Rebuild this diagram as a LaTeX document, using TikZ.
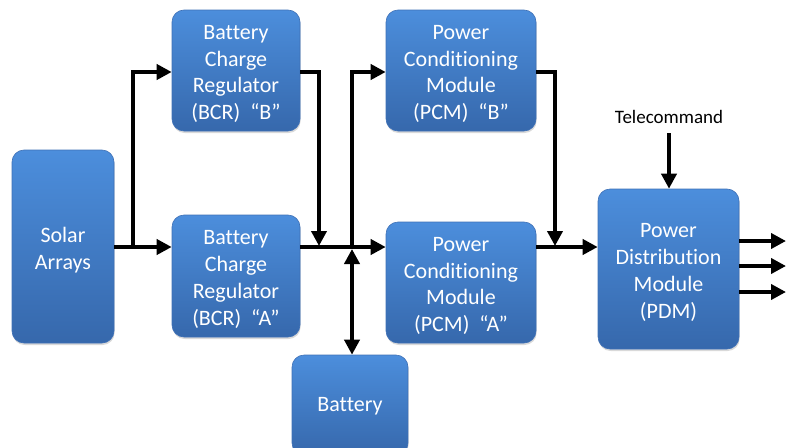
\documentclass[tikz,border=0pt]{standalone}
\usepackage{fontspec}
\setmainfont[Ligatures={NoCommon}]{Carlito}
\usetikzlibrary{arrows.meta,shadows}
\definecolor{btop}{RGB}{76,142,220}
\definecolor{bbot}{RGB}{54,104,172}
\definecolor{bedge}{RGB}{62,112,182}
\begin{document}
\begin{tikzpicture}[x=1pt,y=-1pt,
  blk/.style={rounded corners=12pt, draw=bedge, line width=0.6pt,
    top color=btop, bottom color=bbot, inner sep=0pt,
    drop shadow={opacity=0.3,shadow xshift=0.6pt,shadow yshift=-2pt}},
  txt/.style={text=white, align=center, inner sep=0pt,
    font=\fontsize{22}{26.8}\selectfont},
  tip/.tip={Triangle[length=15pt,width=15pt]},
  con/.style={line width=4pt, line join=miter, -tip},
  dcon/.style={line width=4pt, tip-tip}]
\useasboundingbox (0,0) rectangle (786,447);
\clip (0,0) rectangle (786,447);

% blocks
\node[blk, minimum width=102pt, minimum height=193pt] (sa) at (63,246.5) {};
\node[blk, minimum width=128pt, minimum height=121pt] (bcrb) at (236,70.5) {};
\node[blk, minimum width=128pt, minimum height=122pt] (bcra) at (236,276) {};
\node[blk, minimum width=150pt, minimum height=121pt] (pcmb) at (461,70.5) {};
\node[blk, minimum width=150pt, minimum height=121pt] (pcma) at (461,282.5) {};
\node[blk, minimum width=141pt, minimum height=160pt] (pdm) at (668.5,269) {};
\node[blk, minimum width=116pt, minimum height=100pt] (bat) at (350,405) {};

% block texts
\node[txt] (sat) at ([yshift=-3.5pt]sa.center) {Solar\\Arrays};
\node[txt] (bcrbt) at ([yshift=-3.5pt]bcrb.center) {Battery\\Charge\\Regulator\\(BCR)~~“B”};
\node[txt] (bcrat) at ([yshift=-3.5pt]bcra.center) {Battery\\Charge\\Regulator\\(BCR)~~“A”};
\node[txt] (pcmbt) at ([yshift=-3.5pt]pcmb.center) {Power\\Conditioning\\Module\\(PCM)~~“B”};
\node[txt] (pcmat) at ([yshift=-3.5pt]pcma.center) {Power\\Conditioning\\Module\\(PCM)~~“A”};
\node[txt] (pdmt) at ([yshift=-3.5pt]pdm.center) {Power\\Distribution\\Module\\(PDM)};
\node[txt] (batt) at ([yshift=-1pt]bat.center) {Battery};
\node[font=\fontsize{19}{22}\selectfont, inner sep=0pt] (tele) at (669,117) {Telecommand};

% helper coordinates
\coordinate (bus) at (0,247);
\coordinate (topy) at (0,72);
\coordinate (j1) at (133,247);
\coordinate (j2) at (319,246);
\coordinate (j3) at (352,247);
\coordinate (j3b) at (352,249);
\coordinate (j4) at (555,246);
\coordinate (tc) at (669,133);
\coordinate (o1) at (786,241);
\coordinate (o2) at (786,266);
\coordinate (o3) at (786,292);

% connectors
\draw[con] (sa.east |- bus) -- (bcra.west |- bus);
\draw[con] (j1) |- (bcrb.west |- topy);
\draw[con] (bcrb.east |- topy) -| (j2);
\draw[con] (bcra.east |- bus) -- (pcma.west |- bus);
\draw[con] (j3) |- (pcmb.west |- topy);
\draw[dcon] (j3b) -- (bat.north -| j3b);
\draw[con] (pcmb.east |- topy) -| (j4);
\draw[con] (pcma.east |- bus) -- (pdm.west |- bus);
\draw[con] (tc) -- (pdm.north -| tc);
\draw[con] (pdm.east |- o1) -- (o1);
\draw[con] (pdm.east |- o2) -- (o2);
\draw[con] (pdm.east |- o3) -- (o3);
\end{tikzpicture}
\end{document}
